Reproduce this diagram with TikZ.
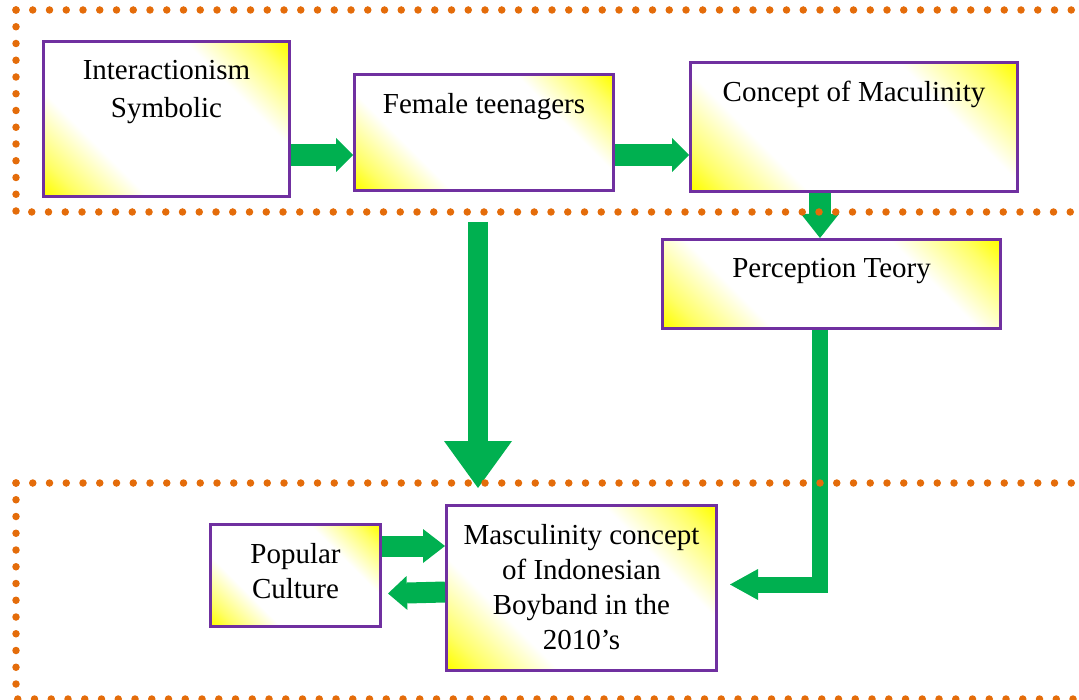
\documentclass[tikz,border=0pt]{standalone}
\usepackage{fontspec}
\setmainfont{Liberation Serif}
\usepackage{xcolor}
\usetikzlibrary{arrows.meta}

\definecolor{dotorange}{HTML}{E46C0A}
\definecolor{boxpurple}{HTML}{7030A0}
\definecolor{flowgreen}{HTML}{00B050}
\pgfdeclarehorizontalshading{boxfill}{100bp}{color(0bp)=(yellow); color(15bp)=(yellow); color(21bp)=(yellow!60); color(33bp)=(white); color(67bp)=(white); color(79bp)=(yellow!60); color(85bp)=(yellow); color(100bp)=(yellow)}

\begin{document}
\begin{tikzpicture}[x=1pt, y=-1pt,
    box/.style={draw=boxpurple, line width=3pt, shade, shading=boxfill, shading angle=45,
        anchor=north west},
    boxtext/.style={anchor=north, yshift=-20pt, align=center, inner sep=0pt, font=\fontsize{29}{35}\selectfont},
    flow/.style={draw=flowgreen, line width=22pt, -{Triangle[length=17pt, width=34pt, line width=0pt]}},
    dotline/.style={draw=dotorange, line width=7.5pt, line cap=round, dash pattern=on 0pt off 16.75pt}]
    \useasboundingbox (0,0) rectangle (1079,700);
    % upper row
    \node[box, minimum width=246pt, minimum height=155pt, label={[boxtext]north:Interactionism\\[3pt]Symbolic}] (inter) at (42,40) {};
    \node[box, minimum width=259pt, minimum height=116pt, label={[boxtext]north:Female teenagers}] (female) at (353,73) {};
    \node[box, minimum width=327pt, minimum height=129pt, label={[boxtext]north:Concept of Maculinity}] (concept) at (689,61) {};
    \node[box, minimum width=338pt, minimum height=89pt, label={[boxtext]north:Perception Teory}] (percep) at (661,238) {};
    % lower row
    \node[box, minimum width=170pt, minimum height=102pt, label={[boxtext]north:Popular\\Culture}] (popular) at (209,523) {};
    \node[box, minimum width=270pt, minimum height=165pt, label={[boxtext]north:Masculinity concept\\of Indonesian\\Boyband in the\\2010’s}] (masc) at (445,504) {};
    \coordinate (upper) at (478,222);
    \coordinate (lower) at (478,488);
    % arrows
    \draw[flow] (inter.east |- 0,155) -- (female.west |- 0,155);
    \draw[flow] (female.east |- 0,155) -- (concept.west |- 0,155);
    \draw[flow, -{Triangle[length=24pt, width=38pt, line width=0pt]}] (concept.south -| 820,0) -- (percep.north -| 820,0);
    \draw[flow, line width=20pt, -{Triangle[length=47pt, width=68pt, line width=0pt]}] (upper) -- (lower);
    \draw[flow, line width=16pt, -{Triangle[length=28pt, width=31pt, line width=0pt]}] (percep.south -| 820,0) |- ([xshift=12pt, yshift=3.5pt]masc.east);
    \draw[flow, line width=21pt, -{Triangle[length=22pt, width=34pt, line width=0pt]}] (popular.east |- 0,546) -- (masc.west |- 0,546);
    \draw[flow, line width=21pt, -{Triangle[length=19pt, width=34pt, line width=0pt]}] (masc.west |- 0,592) -- ([xshift=6pt, yshift=-18pt]popular.east);
    % dotted frames
    \draw[dotline] (16,10) -- (1090,10);
    \draw[dotline] (16,10) -- (16,212) -- (1090,212);
    \draw[dotline] (16,483) -- (1090,483);
    \draw[dotline] (16,483) -- (16,699) -- (1090,699);
\end{tikzpicture}
\end{document}
